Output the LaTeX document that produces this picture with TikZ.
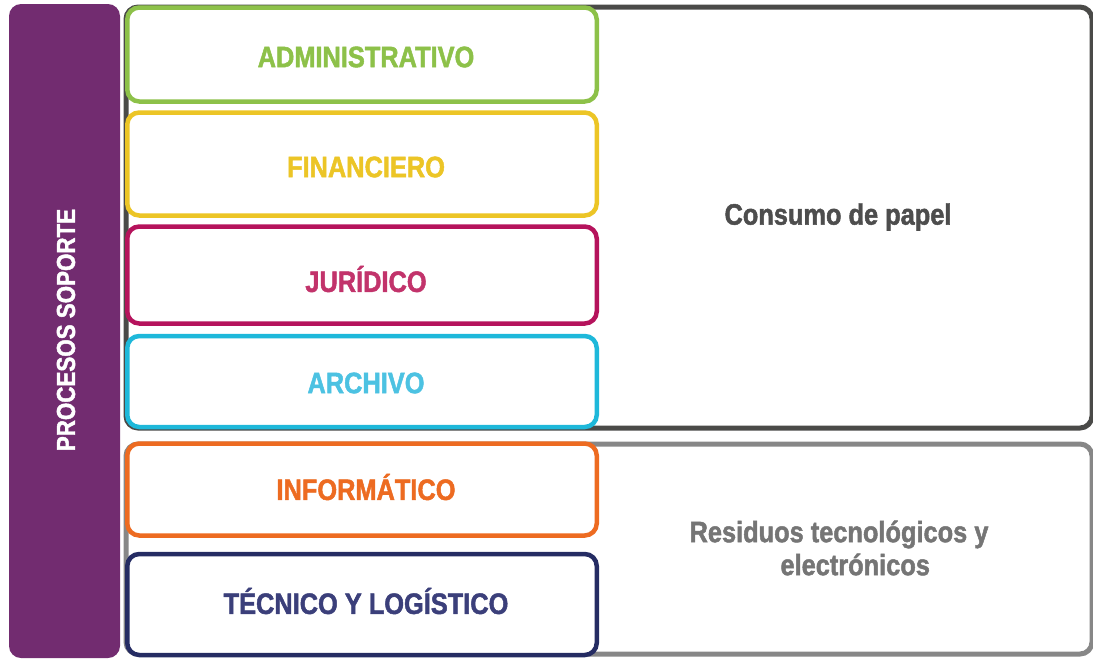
\documentclass[tikz,border=0pt]{standalone}
\usepackage{fontspec}
\setmainfont{Liberation Sans Bold}[FakeStretch=0.86, FakeBold=1.6]
\definecolor{cpurple}{HTML}{722C70}
\definecolor{cdark}{HTML}{4A4A48}
\definecolor{clight}{HTML}{878787}
\definecolor{cgreen}{HTML}{8DC149}
\definecolor{cyellow}{HTML}{ECC526}
\definecolor{cmag}{HTML}{B5135C}
\definecolor{cmagt}{HTML}{C2336B}
\definecolor{ccyan}{HTML}{1EB8DA}
\definecolor{ccyant}{HTML}{4CC2E2}
\definecolor{corange}{HTML}{ED6B21}
\definecolor{cnavy}{HTML}{252C63}
\definecolor{cnavyt}{HTML}{3B3F7A}
\definecolor{ctxtdark}{HTML}{4D4D4D}
\definecolor{ctxtlight}{HTML}{757575}
\begin{document}
\begin{tikzpicture}[x=1pt,y=-1pt,
  grp/.style={draw, line width=5pt, rounded corners=12pt},
  proc/.style={draw, fill=white, line width=4.5pt, rounded corners=12pt,
    minimum width=469.5pt, inner sep=0pt, outer sep=0pt},
  proclbl/.style={font=\fontsize{29.5}{30}\selectfont, inner sep=0pt},
  grplabel/.style={font=\fontsize{29.5}{33}\selectfont, align=center}
]
\useasboundingbox (0,0) rectangle (1093,659);
% group frames
\draw[grp, cdark] (126,7) rectangle (1092,428);
\draw[grp, clight] (126,444) rectangle (1092,654);
% side bar
\node[fill=cpurple, rounded corners=12pt, minimum width=111pt, minimum height=654pt,
  inner sep=0pt, outer sep=0pt] (side) at (64.5,331) {};
\node[rotate=90, text=white, font=\fontsize{26}{30}\selectfont] (sidelbl) at (66,330) {PROCESOS SOPORTE};
% process boxes
\node[proc, draw=cgreen, minimum height=94pt] (adm) at (362,54.5) {};
\node[proc, draw=cyellow, minimum height=103pt] (fin) at (362,164) {};
\node[proc, draw=cmag, minimum height=97pt] (jur) at (362,275) {};
\node[proc, draw=ccyan, minimum height=91pt] (arc) at (362,381.5) {};
\node[proc, draw=corange, minimum height=92pt] (inf) at (362,489.5) {};
\node[proc, draw=cnavy, minimum height=101pt] (tec) at (362,604.5) {};
\node[proclbl, text=cgreen] (admlbl) at (366,57) {ADMINISTRATIVO};
\node[proclbl, text=cyellow] (finlbl) at (366,167) {FINANCIERO};
\node[proclbl, text=cmagt] (jurlbl) at (366,279) {JURÍDICO};
\node[proclbl, text=ccyant] (arclbl) at (366,383) {ARCHIVO};
\node[proclbl, text=corange] (inflbl) at (366,487) {INFORMÁTICO};
\node[proclbl, text=cnavyt] (teclbl) at (366,601) {TÉCNICO Y LOGÍSTICO};
% group labels
\node[grplabel, text=ctxtdark] (papel) at (838,217) {Consumo de papel};
\node[grplabel, text=ctxtlight] (resid) at (839,548) {Residuos tecnológicos y\\\hspace*{1.1em}electrónicos};
\end{tikzpicture}
\end{document}
